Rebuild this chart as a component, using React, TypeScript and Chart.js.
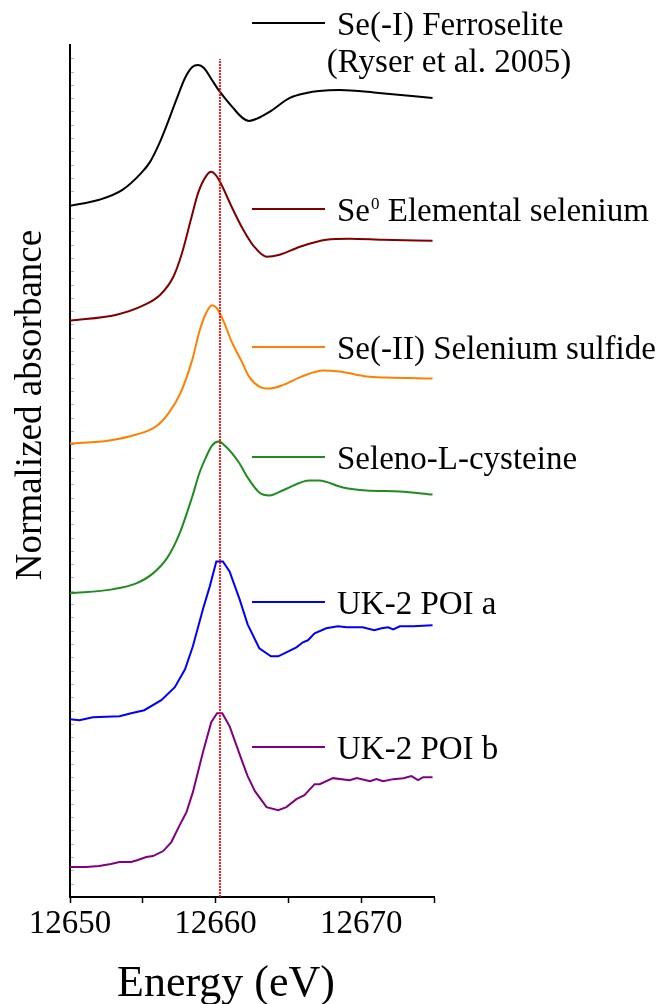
import React, { useEffect, useRef } from "react";
import { Chart, registerables } from "chart.js";
Chart.register(...registerables);

// ---- data (energy in eV, stacked normalized absorbance) ----
const ferroseliteE = [12650, 12652, 12653.6, 12654.9, 12655.5, 12656.15, 12656.6, 12657.3, 12657.9, 12658.4, 12658.8, 12659.2, 12659.75, 12660.2, 12661.2, 12661.85, 12662.3, 12662.8, 12663.7, 12665.1, 12666.25, 12667.1, 12668.5, 12671.2, 12674.9];
const ferroseliteA = [6.92, 6.98, 7.08, 7.25, 7.36, 7.55, 7.71, 7.98, 8.2, 8.31, 8.33, 8.3, 8.18, 8.08, 7.9, 7.8, 7.77, 7.79, 7.86, 8.0, 8.05, 8.07, 8.08, 8.05, 8.0];

const elementalE = [12650, 12653.2, 12655.0, 12656.2, 12657.1, 12657.7, 12658.3, 12658.8, 12659.36, 12659.7, 12660.0, 12660.3, 12661.2, 12661.9, 12662.6, 12663.5, 12664.4, 12665.8, 12667.6, 12669.2, 12671.5, 12674.9];
const elementalA = [5.77, 5.83, 5.92, 6.03, 6.21, 6.45, 6.78, 7.05, 7.22, 7.26, 7.23, 7.16, 6.88, 6.68, 6.52, 6.41, 6.43, 6.51, 6.58, 6.59, 6.58, 6.57];

const sulfideE = [12650, 12652.7, 12654.55, 12655.9, 12656.8, 12657.6, 12658.4, 12658.9, 12659.36, 12659.75, 12660.05, 12660.5, 12661.1, 12661.8, 12662.3, 12663.0, 12663.7, 12664.7, 12665.9, 12667.4, 12668.5, 12670.4, 12671.7, 12674.9];
const sulfideA = [4.54, 4.57, 4.63, 4.71, 4.85, 5.05, 5.38, 5.67, 5.85, 5.925, 5.9, 5.78, 5.56, 5.36, 5.21, 5.11, 5.09, 5.13, 5.21, 5.27, 5.26, 5.21, 5.2, 5.19];

const cysteineE = [12650, 12652.9, 12654.55, 12655.7, 12656.7, 12657.5, 12658.4, 12658.9, 12659.36, 12659.75, 12660.2, 12660.7, 12661.6, 12662.2, 12663.0, 12663.7, 12664.75, 12666.45, 12667.1, 12668.75, 12670.35, 12672.65, 12674.9];
const cysteineA = [3.04, 3.08, 3.14, 3.24, 3.4, 3.63, 4.01, 4.25, 4.41, 4.52, 4.56, 4.51, 4.35, 4.2, 4.05, 4.02, 4.08, 4.17, 4.17, 4.1, 4.07, 4.06, 4.03];

const poiAE = [12650, 12650.65, 12651.57, 12653.4, 12654.2, 12655.1, 12656.27, 12657.2, 12657.9, 12658.44, 12659.13, 12659.6, 12660.05, 12660.5, 12660.96, 12661.65, 12662.2, 12663.0, 12663.8, 12664.3, 12664.86, 12665.55, 12666.0, 12666.34, 12666.8, 12667.6, 12668.4, 12669.0, 12669.55, 12670.1, 12670.9, 12671.4, 12671.85, 12672.2, 12672.65, 12673.56, 12674.9];
const poiAA = [1.78, 1.77, 1.8, 1.81, 1.84, 1.87, 1.97, 2.1, 2.28, 2.51, 2.88, 3.11, 3.36, 3.36, 3.26, 2.98, 2.73, 2.49, 2.41, 2.41, 2.45, 2.5, 2.55, 2.57, 2.64, 2.69, 2.71, 2.7, 2.7, 2.7, 2.67, 2.69, 2.7, 2.68, 2.71, 2.71, 2.72];

const poiBE = [12650, 12651.1, 12652.0, 12652.8, 12653.4, 12654.2, 12654.66, 12655.24, 12655.7, 12656.4, 12656.96, 12657.5, 12658.0, 12658.44, 12659.13, 12659.7, 12660.1, 12660.46, 12660.96, 12661.77, 12662.2, 12662.7, 12663.5, 12664.3, 12664.86, 12665.55, 12666.1, 12666.8, 12667.15, 12668.06, 12669.2, 12669.7, 12670.6, 12671.05, 12671.5, 12672.2, 12672.9, 12673.45, 12673.9, 12674.25, 12674.9];
const poiBA = [0.3, 0.3, 0.31, 0.33, 0.35, 0.35, 0.37, 0.4, 0.41, 0.46, 0.55, 0.71, 0.85, 1.05, 1.45, 1.75, 1.84, 1.84, 1.71, 1.38, 1.21, 1.06, 0.9, 0.87, 0.9, 0.98, 1.02, 1.13, 1.13, 1.19, 1.17, 1.19, 1.16, 1.18, 1.16, 1.18, 1.19, 1.21, 1.17, 1.2, 1.2];

const markerEnergy = 12660.3;
const markerSpan = [0, 8.39];

const seriesLabels = ["Se(-I) Ferroselite", "Se0 Elemental selenium", "Se(-II) Selenium sulfide", "Seleno-L-cysteine", "UK-2 POI a", "UK-2 POI b"];
const seriesColors = ["#000000", "#800000", "#FF8000", "#1E8C1E", "#0000FF", "#800080"];

const xTickValues = [12650, 12655, 12660, 12665, 12670, 12675];
const xTickLabels = ["12650", "", "12660", "", "12670", ""];
const xMin = 12650;
const xMax = 12675;
const yMin = 0;
const yMax = 8.53;
const yMinorStep = 0.1333;

const FONT = "'Liberation Serif', 'Times New Roman', serif";

const toPts = (e: number[], a: number[]) => e.map((x, i) => ({ x, y: a[i] }));

const overlayPlugin = {
  id: "overlay",
  afterDraw(chart: any) {
    const ctx = chart.ctx as CanvasRenderingContext2D;
    ctx.save();
    // faint inner minor ticks on the y axis
    const ys = chart.scales.y;
    const left = chart.chartArea.left;
    ctx.strokeStyle = "rgba(0,0,0,0.3)";
    ctx.lineWidth = 1;
    ctx.beginPath();
    for (let v = yMin + yMinorStep; v < yMax; v += yMinorStep) {
      const py = Math.round(ys.getPixelForValue(v)) + 0.5;
      ctx.moveTo(left + 1, py);
      ctx.lineTo(left + 4, py);
    }
    ctx.stroke();

    ctx.fillStyle = "#000";
    // axis titles
    ctx.font = `44px ${FONT}`;
    ctx.textAlign = "center";
    ctx.textBaseline = "alphabetic";
    ctx.fillText("Energy (eV)", 226, 996);
    ctx.save();
    ctx.translate(41, 405);
    ctx.rotate(-Math.PI / 2);
    ctx.font = `37px ${FONT}`;
    ctx.fillText("Normalized absorbance", 0, 0);
    ctx.restore();

    // legend entries
    const lineYs = [23, 209, 347, 457, 602, 747];
    const x0 = 252, x1 = 325, tx = 337;
    ctx.textAlign = "left";
    ctx.font = `33px ${FONT}`;
    lineYs.forEach((ly, i) => {
      ctx.strokeStyle = seriesColors[i];
      ctx.lineWidth = 2;
      ctx.beginPath();
      ctx.moveTo(x0, ly);
      ctx.lineTo(x1, ly);
      ctx.stroke();
      ctx.fillStyle = "#000";
      const base = ly + 11.5;
      if (i === 1) {
        ctx.font = `33px ${FONT}`;
        ctx.fillText("Se", tx, base);
        const w = ctx.measureText("Se").width;
        ctx.font = `17px ${FONT}`;
        ctx.fillText("0", tx + w + 1, base - 12);
        const w2 = ctx.measureText("0").width;
        ctx.font = `33px ${FONT}`;
        ctx.fillText(" Elemental selenium", tx + w + w2 + 1, base);
      } else {
        ctx.fillText(seriesLabels[i], tx, base);
      }
    });
    ctx.textAlign = "center";
    ctx.fillText("(Ryser et al. 2005)", 449, 72);
    ctx.restore();
  },
};

export default function App() {
  const ref = useRef<HTMLCanvasElement | null>(null);
  useEffect(() => {
    if (!ref.current) return;
    const seriesE = [ferroseliteE, elementalE, sulfideE, cysteineE, poiAE, poiBE];
    const seriesA = [ferroseliteA, elementalA, sulfideA, cysteineA, poiAA, poiBA];
    const datasets: any[] = [
      {
        label: "marker",
        data: [
          { x: markerEnergy, y: markerSpan[0] },
          { x: markerEnergy, y: markerSpan[1] },
        ],
        borderColor: "rgba(255,0,0,0.9)",
        borderWidth: 2,
        borderDash: [2, 1],
        pointRadius: 0,
      },
    ];
    seriesE.forEach((e, i) => {
      datasets.push({
        label: seriesLabels[i],
        data: toPts(e, seriesA[i]),
        borderColor: seriesColors[i],
        borderWidth: 2,
        pointRadius: 0,
        tension: 0,
        cubicInterpolationMode: i < 4 ? "monotone" : "default",
      });
    });
    const chart = new Chart(ref.current, {
      type: "line",
      data: { datasets },
      options: {
        animation: false,
        responsive: false,
        devicePixelRatio: 1,
        parsing: false as any,
        layout: { padding: { top: 45, right: 231, left: 0, bottom: 0 } },
        plugins: { legend: { display: false }, tooltip: { enabled: false } },
        scales: {
          x: {
            type: "linear",
            min: xMin,
            max: xMax,
            afterBuildTicks: (s: any) => {
              s.ticks = xTickValues.map((v) => ({ value: v }));
            },
            afterFit: (s: any) => {
              s.height = 107;
            },
            ticks: {
              autoSkip: false,
              maxRotation: 0,
              minRotation: 0,
              padding: 2,
              color: "#000",
              font: { family: FONT, size: 33 },
              callback: (_v: any, i: number) => xTickLabels[i],
            },
            grid: {
              drawOnChartArea: false,
              drawTicks: true,
              tickLength: 6,
              tickColor: "#000",
              tickWidth: 1.5,
            },
            border: { display: true, color: "#000", width: 2 },
          },
          y: {
            type: "linear",
            min: yMin,
            max: yMax,
            afterFit: (s: any) => {
              s.width = 70;
            },
            ticks: { display: false },
            grid: { display: false, drawOnChartArea: false, drawTicks: false },
            border: { display: true, color: "#000", width: 2 },
          },
        },
      },
      plugins: [overlayPlugin],
    });
    return () => chart.destroy();
  }, []);
  return (
    <div style={{ position: "absolute", left: 0, top: 0, width: 665, height: 1004, background: "#fff" }}>
      <canvas ref={ref} width={665} height={1004} style={{ width: 665, height: 1004, display: "block" }} />
    </div>
  );
}
